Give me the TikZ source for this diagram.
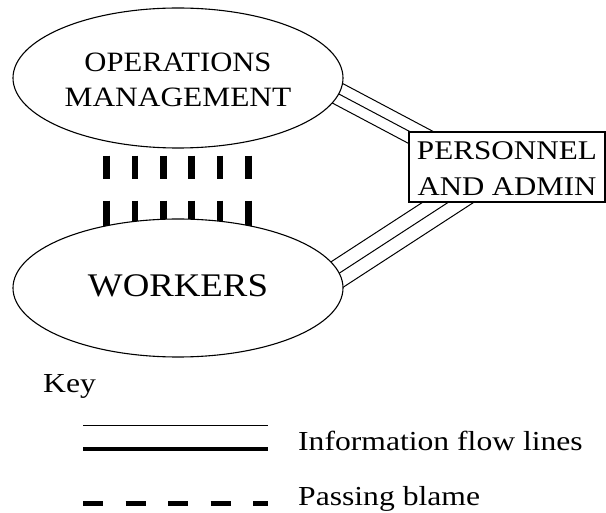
\documentclass[tikz,border=0pt]{standalone}
\usepackage{fontspec}
\setmainfont{Liberation Serif}
\usepackage{graphicx}
\usetikzlibrary{shapes.geometric,backgrounds}
\newcommand\fitw[2]{\resizebox{#1}{\height}{#2}}
\begin{document}
\begin{tikzpicture}[x=1pt,y=-1pt,
  oval/.style={ellipse, draw, line width=1.1pt, fill=white, inner sep=0pt},
  adminbox/.style={rectangle, draw, line width=1.1pt, fill=white, inner sep=0pt, align=center,
    minimum width=196pt, minimum height=70pt, font=\fontsize{27}{36}\selectfont},
  flow/.style={line width=1pt},
  blame/.style={line width=6.7pt, line cap=butt,
    dash pattern=on 23pt off 22pt on 60pt off 10pt, dash phase=108pt},
  keytext/.style={inner sep=0pt, anchor=base west, font=\fontsize{27.5}{33}\selectfont},
  keythin/.style={line width=1pt},
  keythick/.style={line width=4.3pt},
  keydash/.style={line width=5pt, dash pattern=on 20pt off 22.5pt},
]
\useasboundingbox (0,0) rectangle (606,513);

% nodes
\node[oval, align=center, minimum width=330pt, minimum height=140pt,
      font=\fontsize{28}{35}\selectfont] (ops) at (178,78)
      {\rule{0pt}{22.4pt}\fitw{187pt}{OPERATIONS}\\\fitw{226.7pt}{MANAGEMENT}};
\node[oval, minimum width=330pt, minimum height=138pt,
      font=\fontsize{33}{40}\selectfont, text depth=4.9pt] (wrk) at (178,288)
      {\fitw{180pt}{WORKERS}};
\node[adminbox] (adm) at (507,167)
      {\rule{0pt}{20.5pt}\fitw{180pt}{PERSONNEL}\\\fitw{179pt}{AND ADMIN}};

% connectors behind the nodes
\begin{pgfonlayer}{background}
  \coordinate (ta1) at (300,60.9);  \coordinate (tb1) at (450,140.4);
  \coordinate (ta2) at (300,73.4);  \coordinate (tb2) at (450,152.9);
  \coordinate (ta3) at (300,85.9);  \coordinate (tb3) at (450,165.4);
  \coordinate (ba1) at (300,282);   \coordinate (bb1) at (500,152);
  \coordinate (ba2) at (300,298.7); \coordinate (bb2) at (500,168.7);
  \coordinate (ba3) at (300,315.3); \coordinate (bb3) at (500,185.3);
  \foreach \i in {1,2,3} {
    \draw[flow] (ta\i) -- (tb\i);
    \draw[flow] (ba\i) -- (bb\i);
  }
  \foreach \x [count=\i] in {106.7,135,163.3,191.7,220,248.3} {
    \coordinate (bx\i) at (\x,0);
    \draw[blame] (ops.south -| bx\i) -- (wrk.center -| bx\i);
  }
\end{pgfonlayer}

% key
\node[keytext] (key) at (43,393) {\scalebox{1.15}[1]{Key}};
\coordinate (k1a) at (83,426);   \coordinate (k1b) at (268,426);
\coordinate (k2a) at (83,449);   \coordinate (k2b) at (268,449);
\coordinate (k3a) at (83,503);   \coordinate (k3b) at (268,503);
\draw[keythin] (k1a) -- (k1b);
\draw[keythick] (k2a) -- (k2b);
\draw[keydash] (k3a) -- (k3b);
\node[keytext] (kinfo) at (298,450) {\scalebox{1.15}[1]{Information flow lines}};
\node[keytext] (kblame) at (298,505) {\scalebox{1.15}[1]{Passing blame}};
\end{tikzpicture}
\end{document}
